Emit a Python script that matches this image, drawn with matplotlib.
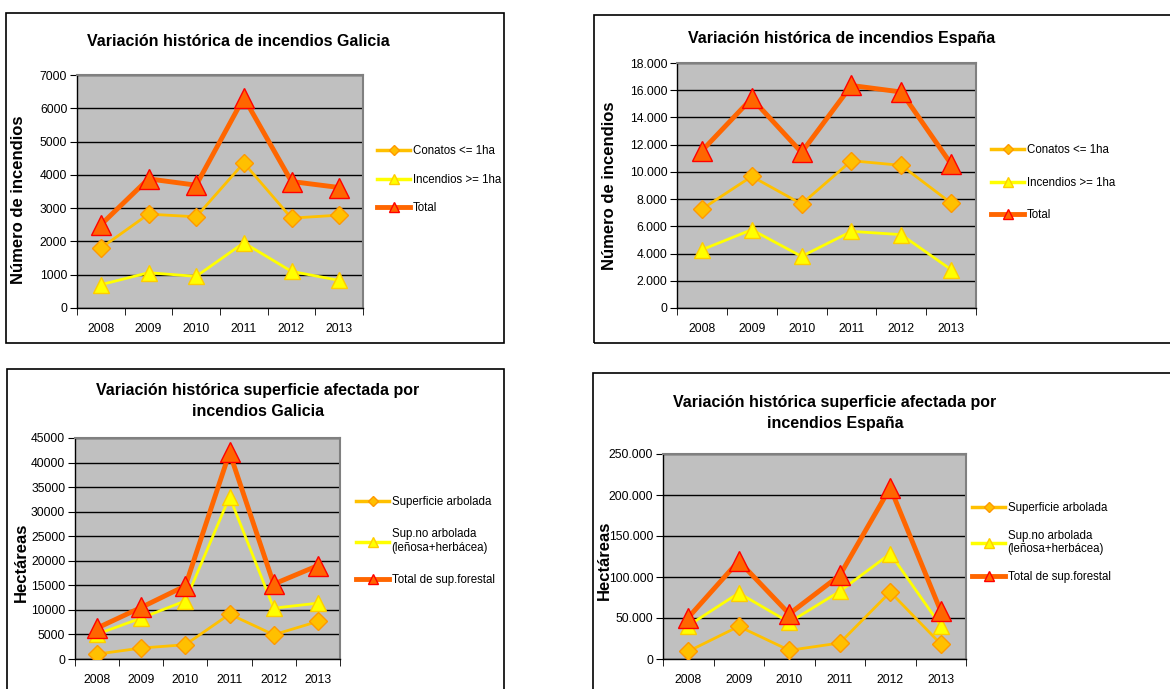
import matplotlib
matplotlib.use('Agg')
import matplotlib.pyplot as plt
from matplotlib.lines import Line2D
from matplotlib.patches import Rectangle
from matplotlib.ticker import FuncFormatter, FixedLocator, NullFormatter

plt.rcParams['font.family'] = ['Liberation Sans', 'DejaVu Sans']

W, H = 1170, 689

years = ['2008', '2009', '2010', '2011', '2012', '2013']

# Número de incendios - Galicia
gal_conatos = [1800, 2820, 2740, 4360, 2700, 2790]
gal_incendios = [700, 1060, 950, 1960, 1100, 830]
gal_total = [2500, 3880, 3690, 6320, 3800, 3620]

# Número de incendios - España
esp_conatos = [7270, 9670, 7640, 10820, 10480, 7710]
esp_incendios = [4280, 5750, 3790, 5630, 5390, 2820]
esp_total = [11550, 15400, 11430, 16350, 15870, 10580]

# Superficie afectada - Galicia (ha)
gal_arbolada = [1000, 2230, 2910, 9130, 4940, 7650]
gal_no_arbolada = [5070, 8320, 11840, 33020, 10350, 11370]
gal_sup_total = [6300, 10500, 14900, 42050, 15250, 19020]

# Superficie afectada - España (ha)
esp_arbolada = [9350, 39800, 10570, 19500, 81700, 18300]
esp_no_arbolada = [40650, 80500, 44700, 82500, 128500, 40600]
esp_sup_total = [50500, 119500, 55000, 102000, 209000, 58500]

labels_num = ['Conatos <= 1ha', 'Incendios >= 1ha', 'Total']
labels_sup = ['Superficie arbolada', 'Sup.no arbolada\n(leñosa+herbácea)',
              'Total de sup.forestal']

C_CON = dict(color='#FFC000', lw=2.0, marker='D', ms=9,
             mfc='#FFC000', mec='#FF9900', mew=1.0)
C_INC = dict(color='#FFFF00', lw=2.0, marker='^', ms=11,
             mfc='#FFFF00', mec='#FFCC00', mew=1.0)
C_TOT = dict(color='#FF6600', lw=3.5, marker='^', ms=14,
             mfc='#FF6600', mec='#FF0000', mew=1.0)


def fig_rect(l, t, r, b):
    return [l / W, 1 - b / H, (r - l) / W, (b - t) / H]


def thousands(v, pos):
    return f'{v:,.0f}'.replace(',', '.')


def draw_panel(fig, box, plot, series, labels, ymax, ystep, title, title_xy,
               ylabel, ylabel_xy, leg_xy, leg_spacing, dotted=False):
    # outer frame of the panel
    fig.patches.append(Rectangle((box[0] / W, 1 - box[3] / H),
                                 (box[2] - box[0]) / W, (box[3] - box[1]) / H,
                                 transform=fig.transFigure, fill=False,
                                 ec='black', lw=1.2))
    ax = fig.add_axes(fig_rect(*plot))
    ax.set_facecolor('#C0C0C0')
    x = list(range(len(years)))
    styles = [C_CON, C_INC, C_TOT]
    for vals, st in zip(series, styles):
        ax.plot(x, vals, **st, zorder=3)
    ax.set_xlim(-0.5, len(years) - 0.5)
    ax.set_ylim(0, ymax)
    ax.yaxis.set_major_locator(FixedLocator(list(range(0, ymax + 1, ystep))))
    if dotted:
        ax.yaxis.set_major_formatter(FuncFormatter(thousands))
    ax.yaxis.grid(True, color='black', lw=1.0)
    ax.set_axisbelow(True)
    # category labels centred, ticks between categories
    ax.set_xticks(x)
    ax.set_xticklabels(years)
    ax.tick_params(axis='x', length=0, pad=11, labelsize=8.7)
    ax.xaxis.set_minor_locator(FixedLocator([i - 0.5 for i in range(len(years) + 1)]))
    ax.xaxis.set_minor_formatter(NullFormatter())
    ax.tick_params(axis='x', which='minor', length=5, direction='out', color='black')
    ax.tick_params(axis='y', length=5, direction='out', labelsize=8.7, pad=2)
    for s in ['top', 'right']:
        ax.spines[s].set_color('#808080')
        ax.spines[s].set_linewidth(1.5)
    for s in ['left', 'bottom']:
        ax.spines[s].set_color('black')
        ax.spines[s].set_linewidth(1.0)

    fig.text(title_xy[0] / W, 1 - title_xy[1] / H, title, ha='center', va='center',
             fontsize=11.5, fontweight='bold', linespacing=1.55)
    fig.text(ylabel_xy[0] / W, 1 - ylabel_xy[1] / H, ylabel, ha='center', va='center',
             rotation=90, fontsize=12, fontweight='bold')

    handles = [
        Line2D([], [], color=C_CON['color'], lw=2.5, marker='D', ms=5,
               mfc=C_CON['mfc'], mec=C_CON['mec']),
        Line2D([], [], color=C_INC['color'], lw=2.5, marker='^', ms=7,
               mfc=C_INC['mfc'], mec=C_INC['mec']),
        Line2D([], [], color=C_TOT['color'], lw=3.5, marker='^', ms=7,
               mfc=C_TOT['mfc'], mec=C_TOT['mec']),
    ]
    ax.legend(handles, labels, loc='upper left', frameon=False,
              bbox_to_anchor=(leg_xy[0] / W, 1 - leg_xy[1] / H),
              bbox_transform=fig.transFigure, fontsize=8.3, handlelength=2.9,
              handletextpad=0.2, labelspacing=leg_spacing, borderpad=0,
              borderaxespad=0)
    return ax


fig = plt.figure(figsize=(W / 100, H / 100), dpi=100)

draw_panel(fig, (6, 13, 504, 343), (77, 75, 363, 308),
           [gal_conatos, gal_incendios, gal_total], labels_num, 7000, 1000,
           'Variación histórica de incendios Galicia', (238, 41),
           'Número de incendios', (19, 200), (377, 145), 1.45)

draw_panel(fig, (594, 15, 1200, 343), (677, 63, 976, 308),
           [esp_conatos, esp_incendios, esp_total], labels_num, 18000, 2000,
           'Variación histórica de incendios España', (842, 38),
           'Número de incendios', (609, 186), (991, 144), 1.8, dotted=True)

draw_panel(fig, (7, 369, 504, 720), (75, 438, 340, 659),
           [gal_arbolada, gal_no_arbolada, gal_sup_total], labels_sup, 45000, 5000,
           'Variación histórica superficie afectada por\nincendios Galicia', (258, 401),
           'Hectáreas', (21, 562), (356, 496), 1.75)

draw_panel(fig, (593, 373, 1200, 720), (663, 454, 966, 659),
           [esp_arbolada, esp_no_arbolada, esp_sup_total], labels_sup, 250000, 50000,
           'Variación histórica superficie afectada por\nincendios España', (835, 413),
           'Hectáreas', (604, 560), (972, 502), 1.35, dotted=True)

fig.savefig('out.png', dpi=100)
